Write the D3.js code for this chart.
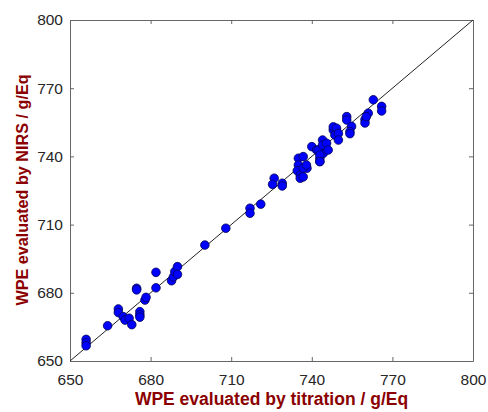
<!DOCTYPE html>
<html>
<head>
<meta charset="utf-8">
<script src="https://cdn.jsdelivr.net/npm/d3@7"></script>
<style>
  body { margin: 0; background: #fff; }
  text { font-family: "Liberation Sans", Arial, sans-serif; }
</style>
</head>
<body>
<div id="chart"></div>
<script>
// 1: DATA
const tickValues = [650, 680, 710, 740, 770, 800];
const titration = [
    656, 656, 656, 664, 668, 668, 669.8, 670.5, 672, 673, 674.8, 674.8,
    676, 676, 676, 677.9, 678.3, 682, 682, 687.8, 688.5, 689, 690, 690,
    700.2, 708, 717, 717, 721, 726, 725.4, 729, 729, 735, 736.8, 735,
    734.6, 735.7, 735.7, 738.2, 740, 741.8, 743, 743, 744.3, 744.9,
    736.8, 736.8, 738, 742.4, 743, 743, 744, 744, 745.5, 746.1,
    748, 748, 749.2, 748.6, 749.9, 749.9, 753, 753, 754.8, 754.2, 754.2,
    759.8, 759.8, 761, 760.3, 762.9, 766, 766
];
const nirs = [
    659.5, 658, 656.7, 665.5, 672.9, 671.3, 669.5, 668, 668.8, 666, 682, 681.3,
    671.7, 670.3, 669.3, 676.8, 678, 682.2, 689, 685.3, 687, 689.3, 691.5, 688.1,
    701, 708.4, 717.2, 715, 719, 730.4, 727.7, 728.2, 727, 739.2, 739.9, 736.2,
    733.7, 731.8, 730.4, 734.8, 744.3, 742.8, 739.2, 737.8, 741.4, 745.8,
    734.8, 731, 736.2, 742.8, 740.6, 737.7, 747.2, 745, 745.8, 742.8,
    751.6, 753, 752.4, 749.4, 750.1, 747.2, 757.5, 756, 753.2, 750.9, 750,
    756.2, 754.7, 759, 757.5, 764.9, 762, 760
];
const points = titration.map((v, i) => ({ x: v, y: nirs[i] }));

// 2: LAYOUT
const margin = { top: 20, right: 15, bottom: 51, left: 70 };
const width = 488 - margin.left - margin.right;
const height = 412 - margin.top - margin.bottom;
const axisColor = "#666";

const svg = d3.select("#chart")
    .append("svg")
    .attr("width", 488)
    .attr("height", 412)
    .append("g")
    .attr("transform", `translate(${margin.left},${margin.top})`);

// 3: SCALES
const xScale = d3.scaleLinear().domain([650, 800]).range([0, width]);
const yScale = d3.scaleLinear().domain([650, 800]).range([height, 0]);

// 4: AXES (ticks pointing inward, box all round)
const styleAxis = g => {
    g.select(".domain").attr("stroke", axisColor);
    g.selectAll(".tick line").attr("stroke", axisColor);
    g.selectAll(".tick text")
        .attr("fill", "#262626")
        .style("font-size", "15.5px");
};

svg.append("g")
    .attr("transform", `translate(0,${height})`)
    .call(d3.axisBottom(xScale).tickValues(tickValues).tickSizeInner(-4).tickSizeOuter(0).tickPadding(13))
    .call(styleAxis);
svg.append("g")
    .call(d3.axisTop(xScale).tickValues(tickValues).tickSizeInner(-4).tickSizeOuter(0).tickFormat(""))
    .call(styleAxis);
svg.append("g")
    .call(d3.axisLeft(yScale).tickValues(tickValues).tickSizeInner(-4).tickSizeOuter(0).tickPadding(7))
    .call(styleAxis);
svg.append("g")
    .attr("transform", `translate(${width},0)`)
    .call(d3.axisRight(yScale).tickValues(tickValues).tickSizeInner(-4).tickSizeOuter(0).tickFormat(""))
    .call(styleAxis);

// 5: 1:1 LINE
svg.append("line")
    .attr("x1", xScale(650))
    .attr("y1", yScale(650))
    .attr("x2", xScale(800))
    .attr("y2", yScale(800))
    .attr("stroke", "#222")
    .attr("stroke-width", 1);

// 6: POINTS
svg.selectAll("circle")
    .data(points)
    .enter()
    .append("circle")
    .attr("cx", d => xScale(d.x))
    .attr("cy", d => yScale(d.y))
    .attr("r", 4.3)
    .attr("fill", "#0000ff")
    .attr("stroke", "#000055")
    .attr("stroke-width", 0.8);

// 7: LABELS
svg.append("text")
    .attr("x", width / 2)
    .attr("y", height + 44)
    .attr("text-anchor", "middle")
    .attr("fill", "#8b0000")
    .style("font-size", "17.5px")
    .style("font-weight", "bold")
    .text("WPE evaluated by titration / g/Eq");

svg.append("text")
    .attr("transform", "rotate(-90)")
    .attr("x", -(height / 2) + 0.5)
    .attr("y", -42)
    .attr("text-anchor", "middle")
    .attr("fill", "#8b0000")
    .style("font-size", "16.2px")
    .style("font-weight", "bold")
    .text("WPE evaluated by NIRS / g/Eq");
</script>
</body>
</html>
